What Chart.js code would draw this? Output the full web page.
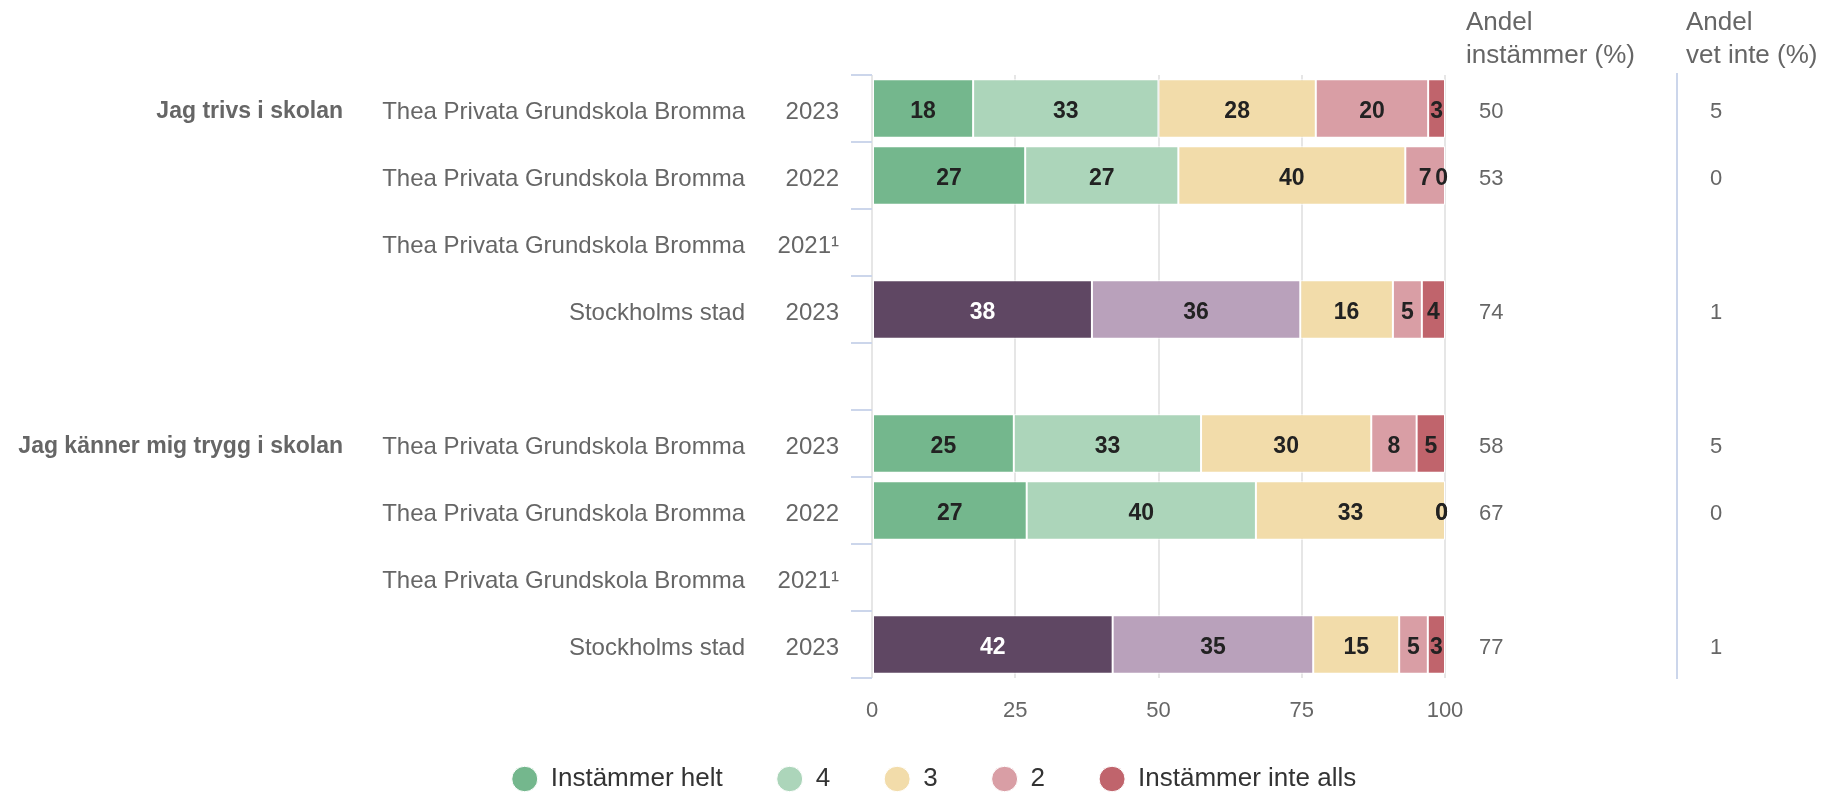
<!DOCTYPE html>
<html>
<head>
<meta charset="utf-8">
<script src="https://cdn.jsdelivr.net/npm/chart.js@4.4.1/dist/chart.umd.min.js"></script>
<style>
  html, body { margin: 0; padding: 0; background: #ffffff; }
  #wrap { width: 1838px; height: 792px; }
</style>
</head>
<body>
<div id="wrap"><canvas id="c" width="1838" height="792"></canvas></div>
<script>
// ---------- data ----------
const questions = ["Jag trivs i skolan", "", "", "", "", "Jag känner mig trygg i skolan", "", "", ""];
const units = ["Thea Privata Grundskola Bromma", "Thea Privata Grundskola Bromma", "Thea Privata Grundskola Bromma", "Stockholms stad", "",
               "Thea Privata Grundskola Bromma", "Thea Privata Grundskola Bromma", "Thea Privata Grundskola Bromma", "Stockholms stad"];
const years = ["2023", "2022", "2021¹", "2023", "", "2023", "2022", "2021¹", "2023"];
const seriesNames = ["Instämmer helt", "4", "3", "2", "Instämmer inte alls"];
const instammerHelt = [18, 27, null, 38, null, 25, 27, null, 42];
const svar4 = [33, 27, null, 36, null, 33, 40, null, 35];
const svar3 = [28, 40, null, 16, null, 30, 33, null, 15];
const svar2 = [20, 7, null, 5, null, 8, 0, null, 5];
const instammerInteAlls = [3, 0, null, 4, null, 5, 0, null, 3];
const andelInstammer = [50, 53, null, 74, null, 58, 67, null, 77];
const andelVetInte = [5, 0, null, 1, null, 5, 0, null, 1];
const headerInstammer = ["Andel", "instämmer (%)"];
const headerVetInte = ["Andel", "vet inte (%)"];
const xTickValues = [0, 25, 50, 75, 100];

// ---------- styles ----------
const schoolColors = ["#74b78d", "#acd5ba", "#f2dcaa", "#d99ea5", "#c0646c"];
const cityColors = ["#5f4763", "#b9a1bb", "#f2dcaa", "#d99ea5", "#c0646c"];
const FONT = "'Liberation Sans', Arial, Helvetica, sans-serif";

const allSeries = [instammerHelt, svar4, svar3, svar2, instammerInteAlls];
const rowSums = units.map((u, i) => allSeries.reduce((s, arr) => s + (arr[i] == null ? 0 : arr[i]), 0));
const isCity = units.map(u => u === "Stockholms stad");

const datasets = allSeries.map((arr, k) => ({
  label: seriesNames[k],
  data: arr.map((v, i) => v == null ? null : v / rowSums[i] * 100),
  raw: arr,
  backgroundColor: arr.map((v, i) => isCity[i] ? cityColors[k] : schoolColors[k]),
  borderColor: "#ffffff",
  borderWidth: 1,
  borderSkipped: false,
  xAxisID: "x",
  yAxisID: "y",
  categoryPercentage: 0.87,
  barPercentage: 1.0
}));

// ---------- plugins ----------
const dataLabels = {
  id: "dataLabels",
  afterDatasetsDraw(chart) {
    const ctx = chart.ctx;
    const area = chart.chartArea;
    ctx.save();
    ctx.font = "bold 23px " + FONT;
    ctx.textAlign = "center";
    ctx.textBaseline = "middle";
    chart.data.datasets.forEach((ds, k) => {
      const meta = chart.getDatasetMeta(k);
      meta.data.forEach((el, i) => {
        const v = ds.raw[i];
        if (v == null) return;
        const p = el.getProps(["x", "base", "y"], true);
        let cx = (p.x + p.base) / 2;
        const w = ctx.measureText(String(v)).width;
        cx = Math.min(cx, area.right - w / 2 + 3);
        ctx.fillStyle = (isCity[i] && k === 0) ? "#ffffff" : "#222222";
        ctx.fillText(String(v), cx, p.y + 3.5);
      });
    });
    ctx.restore();
  }
};

const sideText = {
  id: "sideText",
  afterDraw(chart) {
    const ctx = chart.ctx;
    const y = chart.scales.y;
    const x = chart.scales.x;
    const area = chart.chartArea;
    ctx.save();
    ctx.textBaseline = "middle";
    for (let i = 0; i < units.length; i++) {
      const py = y.getPixelForValue(i) + 3.5;
      if (questions[i]) {
        ctx.font = "bold 23px " + FONT;
        ctx.fillStyle = "#666666";
        ctx.textAlign = "right";
        ctx.fillText(questions[i], 343, py);
      }
      ctx.font = "24px " + FONT;
      ctx.fillStyle = "#666666";
      ctx.textAlign = "right";
      if (units[i]) ctx.fillText(units[i], 745, py);
      if (years[i]) ctx.fillText(years[i], 839, py);
      ctx.textAlign = "left";
      ctx.font = "22px " + FONT;
      if (andelInstammer[i] != null) ctx.fillText(String(andelInstammer[i]), 1479, py);
      if (andelVetInte[i] != null) ctx.fillText(String(andelVetInte[i]), 1710, py);
    }
    // x axis tick labels (positions from the library's x scale)
    ctx.font = "22px " + FONT;
    ctx.fillStyle = "#666666";
    ctx.textAlign = "center";
    x.ticks.forEach(t => {
      ctx.fillText(String(t.value), x.getPixelForValue(t.value), 711);
    });
    // headers
    ctx.font = "26px " + FONT;
    ctx.fillStyle = "#666666";
    ctx.textAlign = "left";
    ctx.textBaseline = "alphabetic";
    ctx.fillText(headerInstammer[0], 1466, 30);
    ctx.fillText(headerInstammer[1], 1466, 63);
    ctx.fillText(headerVetInte[0], 1686, 30);
    ctx.fillText(headerVetInte[1], 1686, 63);
    // separator
    ctx.strokeStyle = "#ccd6eb";
    ctx.lineWidth = 2;
    ctx.beginPath();
    ctx.moveTo(1677, area.top - 2);
    ctx.lineTo(1677, area.bottom + 1);
    ctx.stroke();
    ctx.restore();
  }
};

// ---------- chart ----------
new Chart(document.getElementById("c"), {
  type: "bar",
  data: { labels: units.map((u, i) => u + " " + years[i]), datasets },
  options: {
    indexAxis: "y",
    responsive: false,
    devicePixelRatio: 1,
    animation: false,
    layout: { padding: { left: 30, right: 0, top: 75, bottom: -10 } },
    plugins: {
      tooltip: { enabled: false },
      legend: {
        position: "bottom",
        align: "center",
        labels: {
          usePointStyle: true,
          pointStyle: "circle",
          pointStyleWidth: 26,
          boxHeight: 18,
          padding: 54,
          color: "#333333",
          font: { family: FONT, size: 26 }
        }
      }
    },
    scales: {
      x: {
        type: "linear",
        stacked: true,
        min: 0,
        max: 100,
        afterBuildTicks: (s) => { s.ticks = xTickValues.map(v => ({ value: v })); },
        grid: { color: "#e6e6e6", lineWidth: 2, drawTicks: false },
        border: { display: false },
        ticks: { display: false },
        afterFit: (s) => { s.height = 34; }
      },
      y: {
        type: "category",
        stacked: true,
        position: "left",
        grid: { display: true, drawOnChartArea: false, drawTicks: true, tickLength: 21, color: "#ccd6eb", lineWidth: 2, offset: true },
        border: { display: false },
        ticks: { display: false },
        afterFit: (s) => { s.width = 842; }
      },
      y2: {
        type: "linear",
        position: "right",
        display: true,
        grid: { display: false },
        border: { display: false },
        ticks: { display: false },
        afterFit: (s) => { s.width = 393; }
      }
    }
  },
  plugins: [dataLabels, sideText]
});
</script>
</body>
</html>
